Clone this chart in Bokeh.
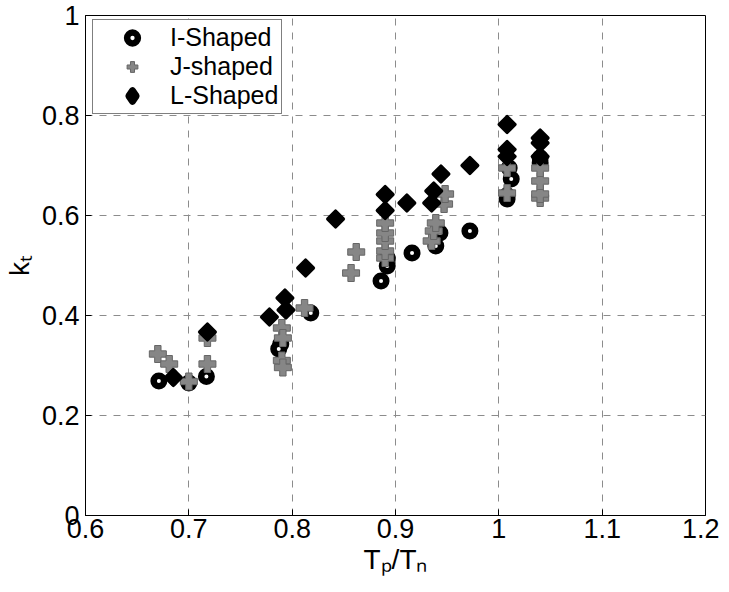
import math
from bokeh.plotting import figure
from bokeh.models import FixedTicker, Legend, LegendItem, Range1d
from bokeh.embed import file_html
from bokeh.resources import INLINE

# ---- data ----
i_x = [0.671, 0.700, 0.717, 0.789, 0.787, 0.818, 0.886, 0.892, 0.892, 0.916,
       0.939, 0.943, 0.972, 1.008, 1.008, 1.012, 1.010, 1.040, 1.040]
i_y = [0.269, 0.265, 0.278, 0.343, 0.333, 0.405, 0.469, 0.499, 0.515, 0.525,
       0.539, 0.565, 0.569, 0.633, 0.640, 0.673, 0.695, 0.705, 0.715]

j_x = [0.670, 0.681, 0.700, 0.718, 0.718, 0.790, 0.791, 0.790, 0.791, 0.812,
       0.857, 0.862, 0.890, 0.890, 0.890, 0.890, 0.890, 0.935, 0.937, 0.939,
       0.947, 0.948, 1.008, 1.008, 1.040, 1.040, 1.040, 1.040]
j_y = [0.323, 0.303, 0.268, 0.303, 0.355, 0.375, 0.355, 0.310, 0.296, 0.415,
       0.485, 0.527, 0.515, 0.529, 0.549, 0.565, 0.585, 0.549, 0.569, 0.585,
       0.623, 0.643, 0.645, 0.695, 0.635, 0.643, 0.669, 0.695]

l_x = [0.685, 0.718, 0.778, 0.794, 0.793, 0.813, 0.842, 0.890, 0.890, 0.911,
       0.935, 0.937, 0.944, 0.972, 1.008, 1.008, 1.008, 1.040, 1.040, 1.040]
l_y = [0.276, 0.367, 0.397, 0.411, 0.435, 0.495, 0.593, 0.610, 0.642, 0.625,
       0.625, 0.649, 0.683, 0.700, 0.782, 0.732, 0.718, 0.755, 0.745, 0.718]

series_names = ["I-Shaped", "J-shaped", "L-Shaped"]

x_ticks = [0.6, 0.7, 0.8, 0.9, 1.0, 1.1, 1.2]
x_tick_labels = ["0.6", "0.7", "0.8", "0.9", "1", "1.1", "1.2"]
y_ticks = [0.0, 0.2, 0.4, 0.6, 0.8, 1.0]
y_tick_labels = ["0", "0.2", "0.4", "0.6", "0.8", "1"]

x_label = "T\u209a/T\u2099"
y_label = "k\u209c"

FONT = "Liberation Sans"

p = figure(frame_width=620, frame_height=500,
           min_border_left=75, min_border_right=14, min_border_top=15, min_border_bottom=68,
           x_range=Range1d(0.6, 1.2), y_range=Range1d(0, 1),
           output_backend="svg", toolbar_location=None,
           background_fill_color="white", border_fill_color="white")

p.outline_line_color = "black"
p.outline_line_width = 1

for ax, ticks, labels in ((p.xaxis[0], x_ticks, x_tick_labels), (p.yaxis[0], y_ticks, y_tick_labels)):
    ax.ticker = FixedTicker(ticks=ticks)
    ax.major_label_overrides = {t: l for t, l in zip(ticks, labels)}
    ax.minor_tick_line_color = None
    ax.major_tick_in = 6
    ax.major_tick_out = 0
    ax.axis_line_color = "black"
    ax.major_tick_line_color = "black"
    ax.major_label_text_font = FONT
    ax.major_label_text_font_size = "27px"
    ax.major_label_text_color = "black"
    ax.axis_label_text_font = FONT
    ax.axis_label_text_font_size = "28px"
    ax.axis_label_text_font_style = "normal"
    ax.axis_label_text_color = "black"

p.xaxis[0].axis_label = x_label
p.yaxis[0].axis_label = y_label
p.xaxis[0].major_label_standoff = 3
p.xaxis[0].axis_label_standoff = 3
p.yaxis[0].major_label_standoff = 6
p.yaxis[0].axis_label_standoff = 4

for g in (p.xgrid[0], p.ygrid[0]):
    g.grid_line_color = "#8c8c8c"
    g.grid_line_dash = "7 7"
    g.grid_line_width = 1

r_i = p.scatter(i_x, i_y, marker="circle", size=10.5, fill_color="white",
                line_color="black", line_width=6.5)
r_j = p.scatter(j_x, j_y, marker="plus", size=17, fill_color="#868686",
                line_color="#666666", line_width=1)
# legend swatch glyph (legend swatches ignore marker rotation); hidden beneath the first L mark
r_l_key = p.scatter(l_x[:1], l_y[:1], marker="diamond", size=10, fill_color="black",
                    line_color="black", line_width=7, line_join="round")
r_l = p.scatter(l_x, l_y, marker="square", size=11, angle=math.pi / 4,
                fill_color="black", line_color="black", line_width=3.5, line_join="round")

legend = Legend(items=[LegendItem(label=series_names[0], renderers=[r_i]),
                       LegendItem(label=series_names[1], renderers=[r_j]),
                       LegendItem(label=series_names[2], renderers=[r_l_key])],
                location=(7, 401), margin=0, padding=3, spacing=0,
                glyph_width=72, glyph_height=27, label_height=27, label_standoff=2,
                label_text_font=FONT, label_text_font_size="25px", label_text_color="black",
                border_line_color="black", border_line_width=1,
                background_fill_color="white", background_fill_alpha=1)
p.add_layout(legend, "center")

open("out.html", "w").write(file_html(p, INLINE))
